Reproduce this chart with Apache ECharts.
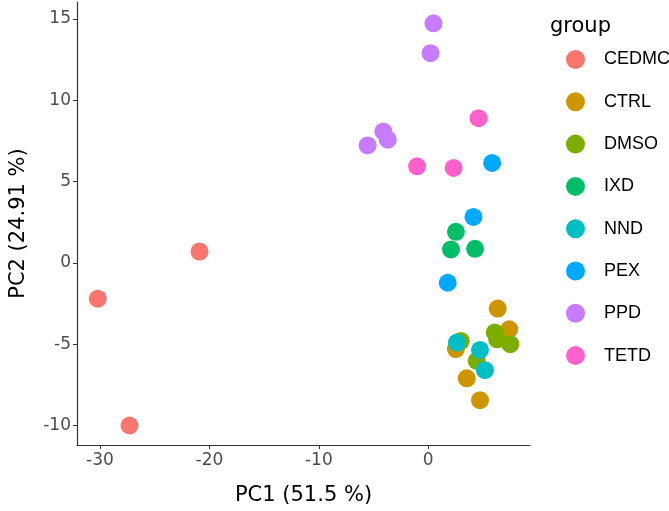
<!DOCTYPE html>
<html>
<head>
<meta charset="utf-8">
<script src="https://cdn.jsdelivr.net/npm/echarts@6/dist/echarts.min.js"></script>
<style>
  html, body { margin: 0; padding: 0; background: #fff; }
  #pcaChart { width: 669px; height: 511px; }
</style>
</head>
<body>
<div id="pcaChart"></div>
<script>
// groups and colours (ggplot default hue palette)
var groupNames = ['CEDMC', 'CTRL', 'DMSO', 'IXD', 'NND', 'PEX', 'PPD', 'TETD'];
var groupColors = ['#F8766D', '#CD9600', '#7CAE00', '#00BE67', '#00BFC4', '#00A9FF', '#C77CFF', '#FF61CC'];

// PC1 / PC2 scores
var cedmcPoints = [[-27.3, -10.0], [-30.2, -2.2], [-20.9, 0.7]];
var ctrlPoints = [[6.35, -2.81], [7.4, -4.08], [2.53, -5.3], [3.52, -7.1], [4.73, -8.44]];
var dmsoPoints = [[6.08, -4.28], [6.3, -4.7], [7.5, -5.0], [2.98, -4.8], [4.43, -6.02]];
var ixdPoints = [[2.53, 1.91], [2.08, 0.83], [4.28, 0.87]];
var nndPoints = [[2.62, -4.9], [4.73, -5.35], [5.18, -6.6]];
var pexPoints = [[5.84, 6.15], [4.13, 2.83], [1.78, -1.22]];
var ppdPoints = [[0.48, 14.74], [0.21, 12.9], [-4.1, 8.09], [-3.7, 7.58], [-5.54, 7.23]];
var tetdPoints = [[4.6, 8.9], [-1.02, 5.94], [2.32, 5.84]];

var xTicks = [-30, -20, -10, 0];
var yTicks = [-10, -5, 0, 5, 10, 15];

var allPoints = [cedmcPoints, ctrlPoints, dmsoPoints, ixdPoints, nndPoints, pexPoints, ppdPoints, tetdPoints];

var myChart = echarts.init(document.getElementById('pcaChart'));

var seriesArr = [];
for (var i = 0; i < groupNames.length; i++) {
  seriesArr.push({
    name: groupNames[i],
    type: 'scatter',
    symbol: 'circle',
    symbolSize: 18,
    data: allPoints[i],
    itemStyle: { color: groupColors[i], opacity: 1 }
  });
}

var tickFont = 'DejaVu Sans';
var option = {
  backgroundColor: '#fff',
  animation: false,
  color: groupColors,
  title: {
    text: 'group',
    left: 545,
    top: 11,
    textStyle: { fontFamily: tickFont, fontSize: 21, fontWeight: 'normal', color: '#000' }
  },
  legend: {
    orient: 'vertical',
    left: 561,
    top: 45,
    icon: 'circle',
    itemWidth: 19,
    itemHeight: 19,
    itemGap: 23.3,
    data: groupNames,
    textStyle: {
      fontFamily: 'Liberation Sans',
      fontSize: 18,
      color: '#000',
      padding: [0, 0, 0, 14]
    }
  },
  grid: {
    left: 71.5,
    right: 139,
    top: 2,
    bottom: 65.3,
    containLabel: false
  },
  xAxis: {
    type: 'value',
    min: -32.1,
    max: 9.3,
    name: 'PC1 (51.5 %)',
    nameLocation: 'middle',
    nameGap: 40,
    nameTextStyle: { fontFamily: tickFont, fontSize: 21, color: '#000' },
    splitLine: { show: false },
    axisLine: { onZero: false, lineStyle: { color: '#333', width: 1.2 } },
    axisTick: { show: true, length: 4, customValues: xTicks, lineStyle: { color: '#333' } },
    axisLabel: { customValues: xTicks, fontFamily: tickFont, fontSize: 17, color: '#4d4d4d', margin: 7 }
  },
  yAxis: {
    type: 'value',
    min: -11.2,
    max: 16.05,
    name: 'PC2 (24.91 %)',
    nameLocation: 'middle',
    nameRotate: 90,
    nameGap: 48,
    nameTextStyle: { fontFamily: tickFont, fontSize: 21, color: '#000' },
    splitLine: { show: false },
    axisLine: { show: true, onZero: false, lineStyle: { color: '#333', width: 1.2 } },
    axisTick: { show: true, length: 4, customValues: yTicks, lineStyle: { color: '#333' } },
    axisLabel: { customValues: yTicks, fontFamily: tickFont, fontSize: 17, color: '#4d4d4d', margin: 6 }
  },
  series: seriesArr
};
myChart.setOption(option);
</script>
</body>
</html>
